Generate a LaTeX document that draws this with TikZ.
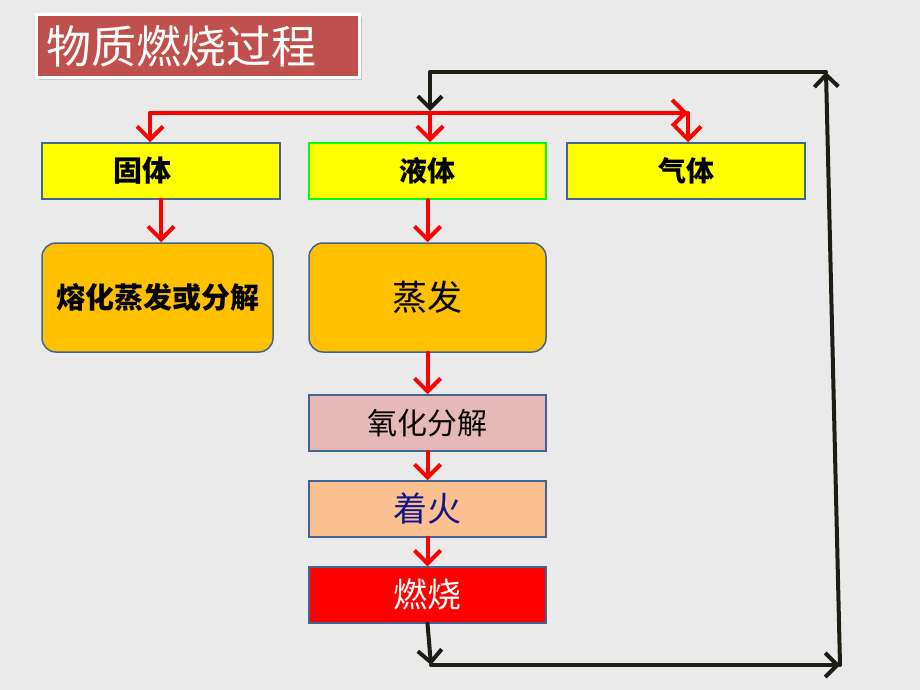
\documentclass[tikz,border=0pt]{standalone}
\usepackage{fontspec}
\newfontfamily\cjk{Noto Sans CJK SC}
\usetikzlibrary{arrows.meta,shadows}
\definecolor{bg}{RGB}{234,234,234}
\definecolor{titlered}{RGB}{192,80,77}
\definecolor{bordc}{RGB}{65,100,145}
\definecolor{yel}{RGB}{255,255,0}
\definecolor{orng}{RGB}{255,192,0}
\definecolor{pinkb}{RGB}{230,185,184}
\definecolor{peach}{RGB}{250,192,144}
\definecolor{navy}{RGB}{20,20,140}
\definecolor{blk}{RGB}{30,28,20}
\definecolor{lgreen}{RGB}{0,255,0}
\tikzset{
  box/.style={draw=bordc, line width=1.5pt, minimum width=238pt, minimum height=56pt,
    inner sep=0pt, fill=yel, font=\cjk\bfseries\fontsize{28}{30}\selectfont},
  rbox/.style={box, rounded corners=14pt, minimum height=109pt, fill=orng},
  redarr/.style={draw=red, line width=4pt, line cap=round,
    -{Straight Barb[length=13pt,width=26pt]}},
  blkarr/.style={draw=blk, line width=4pt, line cap=round, line join=round,
    -{Straight Barb[length=12pt,width=24pt]}},
  lbl/.style={inner sep=0pt}
}
\begin{document}
\begin{tikzpicture}[x=1pt,y=-1pt]
\fill[bg] (0,0) rectangle (920,690);
\useasboundingbox (0,0) rectangle (920,690);

% title
\node[draw=white, line width=3pt, fill=titlered, minimum height=63pt,
  text width=303pt, inner xsep=10pt, inner ysep=0pt, align=left,
  text=white, font=\cjk\fontsize{45}{48}\selectfont,
  drop shadow={shadow xshift=2pt, shadow yshift=-2pt, fill=gray!70}]
  (title) at (198,46.5) {物质燃烧过程};

% boxes
\node[box] (gu) at (161,171) {};
\node[lbl, font=\cjk\bfseries\fontsize{29}{30}\selectfont] (gut) at (142,171) {固体};
\node[box, draw=lgreen, line width=2pt, minimum width=237pt] (ye) at (427.5,171) {液体};
\node[box] (qi) at (686,171) {气体};

\node[rbox, minimum width=231pt, font=\cjk\bfseries\fontsize{29}{30}\selectfont] (rh) at (157.5,297.5) {熔化蒸发或分解};
\node[rbox, minimum width=237pt, font=\cjk\fontsize{35}{36}\selectfont] (zf) at (427.5,297.5) {蒸发};

\node[box, minimum width=237pt, fill=pinkb, font=\cjk\fontsize{30}{32}\selectfont] (yh) at (427.5,423) {氧化分解};
\node[box, minimum width=237pt, fill=peach, text=navy, font=\cjk\fontsize{34}{36}\selectfont] (zh) at (427.5,509) {着火};
\node[box, minimum width=237pt, fill=red, text=white, font=\cjk\fontsize{34}{36}\selectfont] (rs) at (427.5,595) {燃烧};

% red distribution
\coordinate (rl) at (150,113);
\coordinate (rm) at (430,113);
\coordinate (rr) at (688,113);
\draw[redarr] (rl) -- (rr);
\draw[redarr] (rl) -- (rl |- gu.north);
\draw[redarr] (rm) -- (rm |- ye.north);
\draw[redarr] (rr) -- (rr |- qi.north);

% red flow arrows
\draw[redarr] (gu.south) -- (gu.south |- rh.north);
\draw[redarr] (ye.south) -- (zf.north);
\draw[redarr] (zf.south) -- (yh.north);
\draw[redarr] (yh.south) -- (zh.north);
\draw[redarr] (zh.south) -- (rs.north);

% black feedback loop
\coordinate (b1) at (431,665);
\coordinate (b2) at (840,665);
\coordinate (b3) at (826,72);
\coordinate (b4) at (430,72);
\coordinate (b5) at (430,111);
\draw[blkarr] (rs.south) -- (b1);
\draw[blkarr] (b1) -- (b2);
\draw[blkarr] (b2) -- (b3);
\draw[blkarr] (b3) -- (b4) -- (b5);
\end{tikzpicture}
\end{document}
